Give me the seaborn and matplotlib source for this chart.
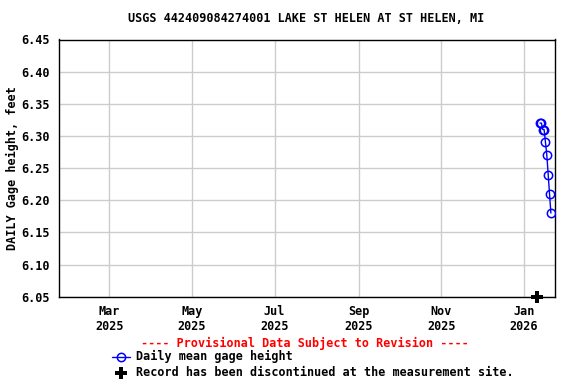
import matplotlib
matplotlib.use("Agg")
import matplotlib.pyplot as plt
from matplotlib.lines import Line2D
import seaborn as sns
import pandas as pd

# ---- data ----
obs_dates = ["2026-01-13", "2026-01-14", "2026-01-15", "2026-01-16", "2026-01-17",
             "2026-01-18", "2026-01-19", "2026-01-20", "2026-01-21"]
gage_height = [6.32, 6.32, 6.31, 6.31, 6.29, 6.27, 6.24, 6.21, 6.18]
disc_dates = ["2026-01-11"]
disc_values = [6.05]
tick_dates = ["2025-03-01", "2025-05-01", "2025-07-01", "2025-09-01", "2025-11-01", "2026-01-01"]
tick_labels = ["Mar\n2025", "May\n2025", "Jul\n2025", "Sep\n2025", "Nov\n2025", "Jan\n2026"]
y_ticks = [6.05, 6.10, 6.15, 6.20, 6.25, 6.30, 6.35, 6.40, 6.45]
x_range = ["2025-01-22 12:00", "2026-01-23 16:00"]
title = "USGS 442409084274001 LAKE ST HELEN AT ST HELEN, MI"
ylabel = "DAILY Gage height, feet"
provisional = "---- Provisional Data Subject to Revision ----"
legend_daily = "Daily mean gage height"
legend_disc = "Record has been discontinued at the measurement site."

sns.set_style("white")
plt.rcParams["font.family"] = ["DejaVu Sans Mono", "DejaVu Sans"]
plt.rcParams["font.weight"] = "bold"
plt.rcParams["text.color"] = "black"
plt.rcParams["axes.labelcolor"] = "black"
plt.rcParams["xtick.color"] = "black"
plt.rcParams["ytick.color"] = "black"

W, H = 576, 384
fig = plt.figure(figsize=(W / 100, H / 100), dpi=100)
left, right, top, bottom = 58.5, 554.5, 39.5, 296.7
ax = fig.add_axes([left / W, 1 - bottom / H, (right - left) / W, (bottom - top) / H])

df = pd.DataFrame({"date": pd.to_datetime(obs_dates), "height": gage_height})
dd = pd.DataFrame({"date": pd.to_datetime(disc_dates), "height": disc_values})

sns.lineplot(data=df, x="date", y="height", ax=ax, color="blue", linewidth=1,
             marker="o", markersize=6, markerfacecolor="none",
             markeredgecolor="blue", markeredgewidth=1.1, zorder=5)
sns.scatterplot(data=dd, x="date", y="height", ax=ax, marker="P", s=70,
                color="black", edgecolor="black", linewidth=0, clip_on=False, zorder=6)

ax.set_xlim(pd.to_datetime(x_range[0]), pd.to_datetime(x_range[1]))
ax.set_ylim(y_ticks[0], y_ticks[-1])
ax.set_yticks(y_ticks)
ax.set_yticklabels([f"{v:.2f}" for v in y_ticks])
ax.set_xticks(pd.to_datetime(tick_dates))
ax.set_xticklabels(tick_labels, linespacing=1.15)
ax.tick_params(axis="both", length=0, labelsize=8.5, colors="black")
ax.tick_params(axis="x", pad=6)
ax.tick_params(axis="y", pad=6)
for lab in ax.get_xticklabels() + ax.get_yticklabels():
    lab.set_fontweight("bold")
    lab.set_color("black")
ax.set_xlabel("")
ax.set_ylabel("")
ax.grid(True, color="#cccccc", linewidth=1)
ax.set_axisbelow(True)
for s in ax.spines.values():
    s.set_color("black")
    s.set_linewidth(1)

cx = (left + right) / 2 / W
fig.text(cx, 1 - 19 / H, title, ha="center", va="center", fontsize=8.5,
         fontweight="bold", color="black")
fig.text(12 / W, 1 - ((top + bottom) / 2) / H, ylabel, rotation=90, ha="center",
         va="center", fontsize=8.5, fontweight="bold", color="black")

fig.text(305 / W, 1 - 343 / H, provisional, ha="center", va="center", fontsize=8.5,
         fontweight="bold", color="red")

# legend glyphs
fig.add_artist(Line2D([111.5 / W, 129.5 / W], [1 - 356.5 / H, 1 - 356.5 / H],
                      transform=fig.transFigure, color="blue", linewidth=1))
fig.add_artist(Line2D([120.5 / W], [1 - 356.5 / H], transform=fig.transFigure,
                      linestyle="none", marker="o", markersize=6, markerfacecolor="none",
                      markeredgecolor="blue", markeredgewidth=1.1))
fig.text(135.5 / W, 1 - 356.5 / H, legend_daily, ha="left", va="center", fontsize=8.5,
         fontweight="bold", color="black")
fig.add_artist(Line2D([120.5 / W], [1 - 372.5 / H], transform=fig.transFigure,
                      linestyle="none", marker="P", markersize=8.5,
                      markerfacecolor="black", markeredgewidth=0))
fig.text(135.5 / W, 1 - 372.5 / H, legend_disc, ha="left", va="center", fontsize=8.5,
         fontweight="bold", color="black")

fig.savefig("out.png", dpi=100)
